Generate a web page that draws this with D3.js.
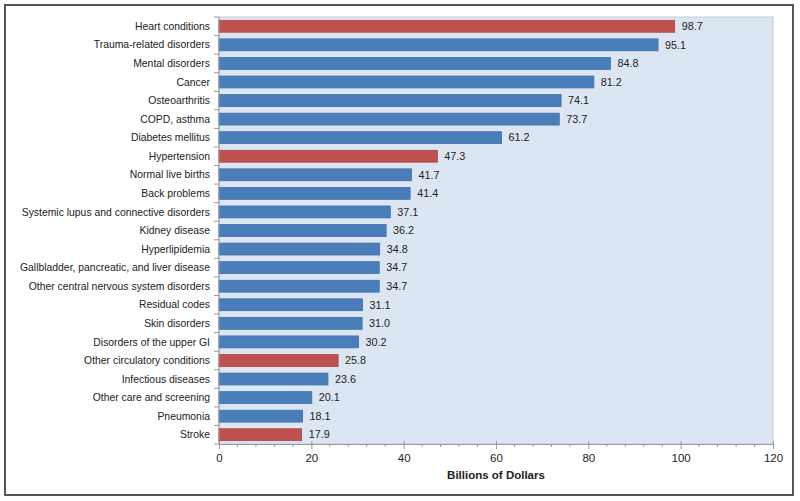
<!DOCTYPE html>
<html>
<head>
<meta charset="utf-8">
<script src="https://d3js.org/d3.v7.min.js"></script>
<style>
body { margin: 0; background: #fff; }
.chart { font-family: 'Liberation Sans', Arial, sans-serif; }
</style>
</head>
<body>
<div class="chart"></div>
<script>
// conditions, top to bottom
const conditions = ["Heart conditions", "Trauma-related disorders", "Mental disorders", "Cancer",
    "Osteoarthritis", "COPD, asthma", "Diabetes mellitus", "Hypertension", "Normal live births",
    "Back problems", "Systemic lupus and connective disorders", "Kidney disease", "Hyperlipidemia",
    "Gallbladder, pancreatic, and liver disease", "Other central nervous system disorders",
    "Residual codes", "Skin disorders", "Disorders of the upper GI", "Other circulatory conditions",
    "Infectious diseases", "Other care and screening", "Pneumonia", "Stroke"];
const costs = [98.7, 95.1, 84.8, 81.2, 74.1, 73.7, 61.2, 47.3, 41.7, 41.4, 37.1, 36.2, 34.8,
    34.7, 34.7, 31.1, 31.0, 30.2, 25.8, 23.6, 20.1, 18.1, 17.9];
// circulatory conditions are highlighted in red
const highlighted = ["Heart conditions", "Hypertension", "Other circulatory conditions", "Stroke"];
const xTicks = [0, 20, 40, 60, 80, 100, 120];

const width = 800, height = 501;
const margin = {top: 17, right: 27, bottom: 57, left: 219};

const data = conditions.map((c, i) => ({name: c, value: costs[i]}));

const svg = d3.select(".chart").append("svg")
    .attr("width", width)
    .attr("height", height);

// outer frame
svg.append("rect")
    .attr("x", 5).attr("y", 5)
    .attr("width", 788).attr("height", 490)
    .attr("fill", "none")
    .attr("stroke", "#555")
    .attr("stroke-width", 2);

const x = d3.scaleLinear().domain([0, 120]).range([margin.left, width - margin.right]);
const y = d3.scaleBand().domain(conditions)
    .range([margin.top, height - margin.bottom])
    .paddingInner(0.36).paddingOuter(0.18);

// plot background
svg.append("rect")
    .attr("x", x(0)).attr("y", margin.top)
    .attr("width", x(120) - x(0))
    .attr("height", height - margin.bottom - margin.top)
    .attr("fill", "#dce6f2")
    .attr("stroke", "#c3cdd8")
    .attr("stroke-width", 1);

svg.selectAll(".bar")
    .data(data)
    .enter().append("rect")
    .attr("class", "bar")
    .attr("x", x(0))
    .attr("y", d => y(d.name))
    .attr("width", d => x(d.value) - x(0))
    .attr("height", y.bandwidth())
    .attr("fill", d => highlighted.includes(d.name) ? "#c0504d" : "#4a7ebb")
    .attr("stroke", d => highlighted.includes(d.name) ? "#a84541" : "#3f6fa8")
    .attr("stroke-width", 0.8);

svg.selectAll(".val")
    .data(data)
    .enter().append("text")
    .attr("class", "val")
    .attr("x", d => x(d.value) + 7)
    .attr("y", d => y(d.name) + y.bandwidth() / 2)
    .attr("dy", "0.35em")
    .attr("font-size", 10.8)
    .attr("fill", "#222")
    .text(d => d.value.toFixed(1));

// y axis: labels and boundary ticks
const bottomY = height - margin.bottom;
svg.append("line")
    .attr("x1", x(0)).attr("x2", x(0))
    .attr("y1", margin.top).attr("y2", bottomY)
    .attr("stroke", "#999");
const bounds = d3.range(conditions.length + 1).map(i => margin.top + (bottomY - margin.top) * i / conditions.length);
svg.selectAll(".ytick")
    .data(bounds)
    .enter().append("line")
    .attr("x1", x(0) - 5).attr("x2", x(0))
    .attr("y1", d => d).attr("y2", d => d)
    .attr("stroke", "#999");

svg.selectAll(".ylab")
    .data(conditions)
    .enter().append("text")
    .attr("x", x(0) - 9)
    .attr("y", d => y(d) + y.bandwidth() / 2)
    .attr("dy", "0.35em")
    .attr("text-anchor", "end")
    .attr("font-size", 10.4)
    .attr("fill", "#222")
    .text(d => d);

// x axis
const xAxis = svg.append("g")
    .attr("transform", `translate(0,${bottomY})`)
    .call(d3.axisBottom(x).tickValues(xTicks).tickSize(5).tickPadding(5))
    .call(g => g.select(".domain").attr("stroke", "#999"))
    .call(g => g.selectAll(".tick line").attr("stroke", "#999").attr("y1", -3))
    .call(g => g.selectAll(".tick text").attr("font-size", 11.5).attr("fill", "#222")
        .attr("font-family", "'Liberation Sans', Arial, sans-serif"));

const minor = d3.range(0, 121, 4).filter(v => v % 20 !== 0);
xAxis.selectAll(".minor")
    .data(minor)
    .enter().append("line")
    .attr("x1", d => x(d)).attr("x2", d => x(d))
    .attr("y1", 0).attr("y2", 3)
    .attr("stroke", "#999");

svg.append("text")
    .attr("x", (x(0) + x(120)) / 2)
    .attr("y", 479)
    .attr("text-anchor", "middle")
    .attr("font-size", 11.5)
    .attr("font-weight", "bold")
    .attr("fill", "#222")
    .text("Billions of Dollars");
</script>
</body>
</html>
